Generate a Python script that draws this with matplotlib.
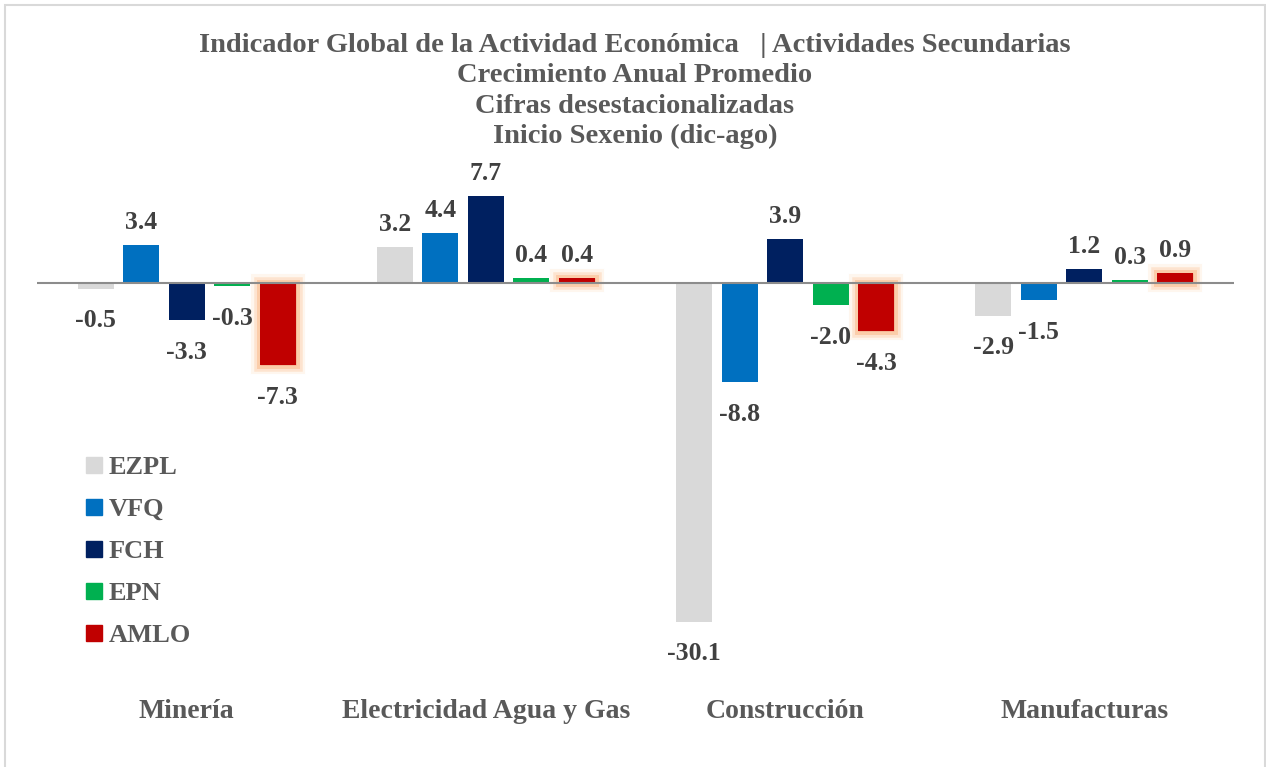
import matplotlib.pyplot as plt
import matplotlib.patheffects as pe
import numpy as np
from matplotlib.lines import Line2D

# datos
categorias = ['Minería', 'Electricidad Agua y Gas', 'Construcción', 'Manufacturas']
series = ['EZPL', 'VFQ', 'FCH', 'EPN', 'AMLO']
ezpl = [-0.5, 3.2, -30.1, -2.9]
vfq = [3.4, 4.4, -8.8, -1.5]
fch = [-3.3, 7.7, 3.9, 1.2]
epn = [-0.3, 0.4, -2.0, 0.3]
amlo = [-7.3, 0.4, -4.3, 0.9]
titulo = ('Indicador Global de la Actividad Económica   | Actividades Secundarias\n'
          'Crecimiento Anual Promedio\nCifras desestacionalizadas\nInicio Sexenio (dic-ago)')

valores = [ezpl, vfq, fch, epn, amlo]
colores = ['#d9d9d9', '#0070c0', '#002060', '#00b050', '#c00000']

W, H = 1266, 767
fig = plt.figure(figsize=(W / 100, H / 100), dpi=100)
plt.rcParams['font.family'] = ['Liberation Serif', 'DejaVu Serif']
plt.rcParams['font.weight'] = 'bold'

# eje en pixeles: x 37..1234, y 150..680 (cero en 283)
ax = fig.add_axes([37 / W, 1 - 680 / H, (1234 - 37) / W, (680 - 150) / H])
px = 11.25
ax.set_ylim(-(680 - 283) / px, (283 - 150) / px)
ax.set_xlim(-0.5, 3.5)

x = np.arange(len(categorias))
paso = 45.5 / 299.5
ancho = 36 / 299.5
glow = [pe.Stroke(linewidth=13, foreground='#fef0e4', alpha=0.6),
        pe.Stroke(linewidth=9, foreground='#fddcc2', alpha=0.7),
        pe.Stroke(linewidth=5, foreground='#fbc8a0', alpha=0.8),
        pe.Normal()]

for i, (vals, col) in enumerate(zip(valores, colores)):
    pos = x + (i - 2) * paso
    bars = ax.bar(pos, vals, ancho, color=col, zorder=2)
    if series[i] == 'AMLO':
        for b in bars:
            b.set_path_effects(glow)
    for xp, v in zip(pos, vals):
        if v >= 0:
            ax.annotate(f'{v:.1f}', (xp, v), xytext=(0, 8), textcoords='offset points',
                        ha='center', va='bottom', fontsize=18.5, color='#404040', fontweight='bold')
        else:
            ax.annotate(f'{v:.1f}', (xp, v), xytext=(0, -15), textcoords='offset points',
                        ha='center', va='top', fontsize=18.5, color='#404040', fontweight='bold')

ax.axhline(0, color='#8c8c8c', linewidth=1.5, zorder=3)
for s in ax.spines.values():
    s.set_visible(False)
ax.set_xticks([])
ax.set_yticks([])

for xc, c in zip(x, categorias):
    ax.text(xc, 1 - (712 - 150) / (680 - 150), c, transform=ax.get_xaxis_transform(),
            ha='center', va='center', fontsize=20, color='#595959', fontweight='bold')

fig.text(635 / W, 1 - 91 / H, titulo, ha='center', va='center', fontsize=20.5,
         color='#595959', fontweight='bold', linespacing=1.29)

handles = [Line2D([], [], marker='s', linestyle='', markersize=11.5, color=c) for c in colores]
fig.legend(handles, series, loc='upper left', bbox_to_anchor=(57 / W, 1 - 432 / H),
           frameon=False, fontsize=19, labelcolor='#595959', handletextpad=0.05,
           labelspacing=0.70, handlelength=1.0)

fig.add_artist(plt.Rectangle((5 / W, -0.01), (W - 1 - 5) / W, 1.01 - 4.5 / H,
                             transform=fig.transFigure, fill=False,
                             edgecolor='#d9d9d9', linewidth=1.5))

fig.savefig('out.png', dpi=100)
